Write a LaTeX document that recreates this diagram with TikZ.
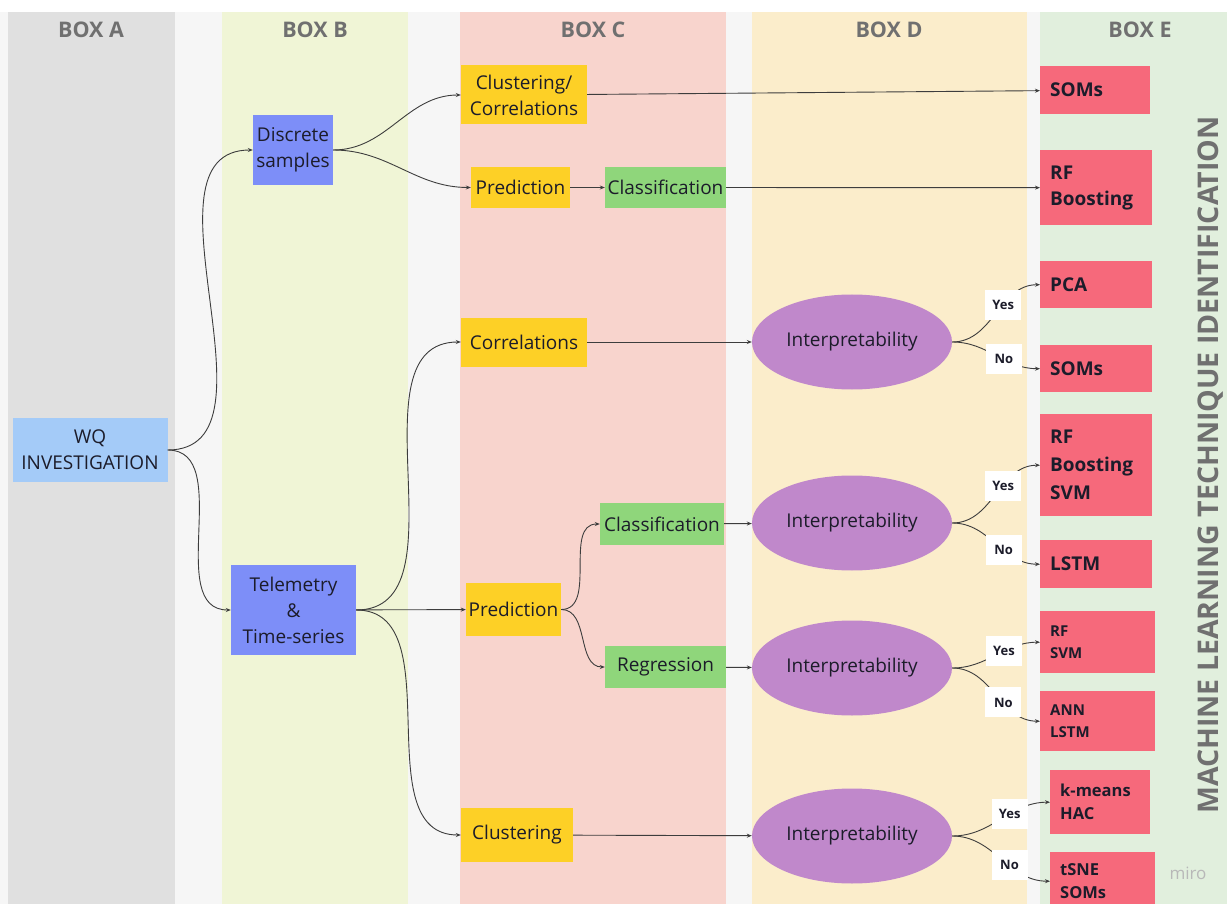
\documentclass[tikz,border=0pt]{standalone}
\usepackage{fontspec}
\setmainfont{Open Sans}
\usetikzlibrary{shapes.geometric,arrows.meta}

\definecolor{gapgray}{HTML}{F6F6F6}
\definecolor{colA}{HTML}{E0E0E0}
\definecolor{colB}{HTML}{F0F5D6}
\definecolor{colC}{HTML}{F8D4CD}
\definecolor{colD}{HTML}{FBEDCB}
\definecolor{colE}{HTML}{E1EFDD}
\definecolor{headgray}{HTML}{707070}
\definecolor{wqblue}{HTML}{A4CBF8}
\definecolor{srcblue}{HTML}{7D8EF8}
\definecolor{taskyellow}{HTML}{FDD026}
\definecolor{subgreen}{HTML}{8FD67B}
\definecolor{interpurple}{HTML}{C088CB}
\definecolor{mlred}{HTML}{F6697B}
\definecolor{txtdark}{HTML}{1C1C2A}
\definecolor{linegray}{HTML}{3D3D3D}
\definecolor{mirogray}{HTML}{B8B8B8}

\newcommand\mainsz{\fontsize{19}{26}\selectfont}
\newcommand\headsz{\fontsize{21.5}{24}\selectfont}

\begin{document}
\begin{tikzpicture}[x=1pt,y=-1pt]

        \useasboundingbox (0,0) rectangle (1227,904);
        \fill[white]   (0,0)    rectangle (1227,904);
        \fill[gapgray] (0,12)   rectangle (1227,904);
        \fill[colA]    (8,12)   rectangle (175,904);
        \fill[colB]    (222,12) rectangle (408,904);
        \fill[colC]    (460,12) rectangle (726,904);
        \fill[colD]    (752,12) rectangle (1027,904);
        \fill[colE]    (1040,12) rectangle (1227,904);

        \begin{scope}[every node/.style={font=\bfseries\headsz,text=headgray}]
          \node (hA) at (91,30)   {BOX A};
          \node (hB) at (315,30)  {BOX B};
          \node (hC) at (593,30)  {BOX C};
          \node (hD) at (889,30)  {BOX D};
          \node (hE) at (1140,30) {BOX E};
          \node[rotate=90,inner sep=0pt,font=\bfseries\fontsize{28.5}{32}\selectfont,text=headgray] (mlti) at (1211,465)
            {MACHINE LEARNING TECHNIQUE IDENTIFICATION};
        \end{scope}

        \node[font=\fontsize{17}{20}\selectfont,text=mirogray] (miro) at (1188,873) {miro};

        \begin{scope}[every node/.style={rectangle,align=center,inner sep=2pt,font=\mainsz,text=txtdark}]
          \node[fill=wqblue,minimum width=155pt,minimum height=64pt] (wq) at (90,450) {WQ\\INVESTIGATION};
          \node[fill=srcblue,minimum width=80pt,minimum height=70pt] (disc) at (293,150) {Discrete\\samples};
          \node[fill=srcblue,minimum width=125pt,minimum height=90pt] (tele) at (293.5,610) {Telemetry\\\&\\Time-series};

          \node[fill=taskyellow,minimum width=126pt,minimum height=59pt] (cc)    at (524,95)      {Clustering/\\Correlations};
          \node[fill=taskyellow,minimum width=99pt,minimum height=41pt]  (pred1) at (520.5,187.5) {Prediction};
          \node[fill=taskyellow,minimum width=126pt,minimum height=49pt] (corr)  at (524,342)     {Correlations};
          \node[fill=taskyellow,minimum width=95pt,minimum height=53pt]  (pred2) at (513.5,609.5) {Prediction};
          \node[fill=taskyellow,minimum width=112pt,minimum height=54pt] (clus)  at (517,835)     {Clustering};

          \node[fill=subgreen,minimum width=121pt,minimum height=41pt] (cls1) at (665.5,187.5) {Classification};
          \node[fill=subgreen,minimum width=124pt,minimum height=42pt] (cls2) at (662,524)     {Classification};
          \node[fill=subgreen,minimum width=121pt,minimum height=42pt] (reg)  at (665.5,667)   {Regression};
        \end{scope}

        \begin{scope}[every node/.style={ellipse,fill=interpurple,minimum width=200pt,minimum height=95pt,inner sep=0pt,font=\mainsz,text=txtdark}]
          \node (int1) at (852,342) {Interpretability};
          \node (int2) at (852,523) {Interpretability};
          \node (int3) at (852,668) {Interpretability};
          \node (int4) at (852,836) {Interpretability};
        \end{scope}

        \begin{scope}[every node/.style={rectangle,anchor=north west,fill=mlred,align=left,inner xsep=10pt,inner ysep=0pt,text=txtdark,font=\bfseries\mainsz}]
          \node[text width=90pt,minimum height=48pt]  (soms1) at (1040,66)  {SOMs};
          \node[text width=92pt,minimum height=75pt]  (rfb)   at (1040,150) {RF\\Boosting};
          \node[text width=92pt,minimum height=47pt]  (pca)   at (1040,261) {PCA};
          \node[text width=92pt,minimum height=47pt]  (soms2) at (1040,345) {SOMs};
          \node[text width=92pt,minimum height=102pt,font=\bfseries\fontsize{19}{28}\selectfont] (rbs) at (1040,414) {RF\\Boosting\\SVM};
          \node[text width=92pt,minimum height=48pt]  (lstm)  at (1040,540) {LSTM};
          \node[text width=95pt,minimum height=62pt,font=\bfseries\fontsize{15}{22}\selectfont] (rfsvm) at (1040,611) {RF\\SVM};
          \node[text width=95pt,minimum height=60pt,font=\bfseries\fontsize{15}{22}\selectfont] (annl)  at (1040,691) {ANN\\LSTM};
          \node[text width=80pt,minimum height=64pt,font=\bfseries\fontsize{16.5}{23}\selectfont] (kmh) at (1050,770) {k-means\\HAC};
          \node[text width=85pt,minimum height=58pt,font=\bfseries\fontsize{16.5}{23}\selectfont] (tsne) at (1050,852) {tSNE\\SOMs};
        \end{scope}

        \begin{scope}[every node/.style={fill=white,font=\bfseries\fontsize{13}{15}\selectfont,text=txtdark,minimum width=36pt,minimum height=30pt,inner sep=1pt}]

          \begin{scope}[every edge/.style={draw=linegray,line width=0.9pt,-{Stealth[length=5pt,width=4pt]}}]
            \path (wq)    edge[out=0,in=180] (disc);
            \path (wq)    edge[out=0,in=180] (tele);
            \path (disc)  edge[out=0,in=180] (cc);
            \path (disc)  edge[out=0,in=180] (pred1);
            \path (pred1) edge (cls1);
            \path (cc)    edge (soms1);
            \path (cls1)  edge (rfb);
            \path (tele)  edge[out=0,in=180] (corr);
            \path (tele)  edge (pred2);
            \path (tele)  edge[out=0,in=180] (clus);
            \path (pred2) edge[out=0,in=180] (cls2);
            \path (pred2) edge[out=0,in=180] (reg);
            \path (corr)  edge (int1);
            \path (cls2)  edge (int2);
            \path (reg)   edge (int3);
            \path (clus)  edge (int4);
            \path (int1)  edge[out=0,in=180] node[pos=.6] {Yes} (pca);
            \path (int1)  edge[out=0,in=180] node[pos=.6] {No}  (soms2);
            \path (int2)  edge[out=0,in=180] node[pos=.6] {Yes} (rbs);
            \path (int2)  edge[out=0,in=180] node[pos=.6] {No}  (lstm);
            \path (int3)  edge[out=0,in=180] node[pos=.6] {Yes} (rfsvm);
            \path (int3)  edge[out=0,in=180] node[pos=.6] {No}  (annl);
            \path (int4)  edge[out=0,in=180] node[pos=.6] {Yes} (kmh);
            \path (int4)  edge[out=0,in=180] node[pos=.6] {No}  (tsne);
          \end{scope}
        \end{scope}

      \end{tikzpicture}
\end{document}
